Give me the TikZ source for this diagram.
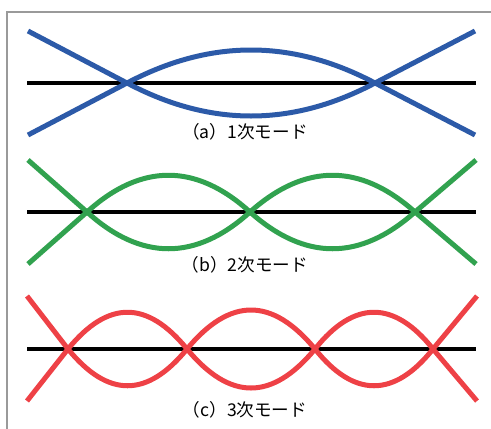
\documentclass[tikz,border=0pt]{standalone}
\usepackage{fontspec}
\usepackage{tikz}
\newfontfamily\jpfont{Noto Sans CJK JP}
\definecolor{bluex}{HTML}{2C5AA8}
\definecolor{greenx}{HTML}{31A24F}
\definecolor{redx}{HTML}{EE4146}
\definecolor{framex}{HTML}{9A9A9A}
\tikzset{
  wave/.style={line width=2.5pt,line join=round},
  stringline/.style={line width=2pt,black},
  caption/.style={font=\jpfont\fontsize{8.8}{10}\selectfont,inner sep=0pt}
}
\begin{document}
\begin{tikzpicture}[x=0.5pt,y=-0.5pt]
\useasboundingbox (0,0) rectangle (491,428);
\draw[framex,line width=0.75pt] (7,440)--(7,12)--(500,12);
% (a) first mode
\draw[stringline] (27,83)--(476,83);
\draw[wave,bluex] (28,31)--(127,83) .. controls (210,127) and (292,127) .. (375,83)--(475,31);
\draw[wave,bluex] (28,135)--(127,83) .. controls (210,39) and (292,39) .. (375,83)--(475,135);
\node[caption] (capa) at (245,132) {（a）1次モード};
% (b) second mode
\draw[stringline] (27,212)--(476,212);
\draw[wave,greenx] (28,160)--(87,212) .. controls (141,261) and (196,261) .. (250,212)
  .. controls (305,163) and (360,163) .. (415,212)--(476,264);
\draw[wave,greenx] (28,264)--(87,212) .. controls (141,163) and (196,163) .. (250,212)
  .. controls (305,261) and (360,261) .. (415,212)--(476,160);
\node[caption] (capb) at (245,265) {（b）2次モード};
% (c) third mode
\draw[stringline] (27,349)--(476,349);
\draw[wave,redx] (27,296)--(68,349) .. controls (108,398) and (147,398) .. (187,349)
  .. controls (230,297) and (272,297) .. (315,349)
  .. controls (354,398) and (394,398) .. (433,349)--(477,296);
\draw[wave,redx] (27,401)--(68,349) .. controls (108,300) and (147,300) .. (187,349)
  .. controls (230,401) and (272,401) .. (315,349)
  .. controls (354,300) and (394,300) .. (433,349)--(477,401);
\node[caption] (capc) at (245,410) {（c）3次モード};
\end{tikzpicture}
\end{document}
